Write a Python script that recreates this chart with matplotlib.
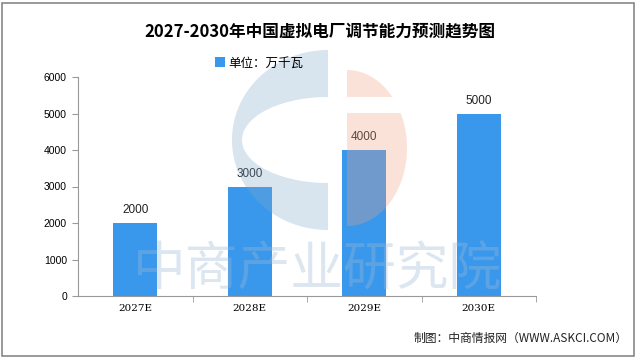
import numpy as np
import matplotlib.pyplot as plt
from matplotlib.patches import Rectangle, Polygon
from matplotlib.transforms import Affine2D

plt.rcParams['font.family'] = ['Liberation Sans', 'Noto Sans CJK SC', 'DejaVu Sans']

years = ['2027E', '2028E', '2029E', '2030E']
values = [2000, 3000, 4000, 5000]
title = '2027-2030年中国虚拟电厂调节能力预测趋势图'
unit = '单位：万千瓦'
source = '制图：中商情报网（WWW.ASKCI.COM）'

bar_color = '#3A98EC'
axis_color = '#999999'

W, H = 640, 358
fig = plt.figure(figsize=(W / 100, H / 100), dpi=100)
ax = fig.add_axes([78 / W, 62 / H, (536 - 78) / W, (296 - 77) / H])

x = range(len(years))
bars = ax.bar(x, values, width=0.38, color=bar_color, label=unit, zorder=2)
for xi, v in zip(x, values):
    ax.text(xi, v + 180, str(v), ha='center', va='bottom', fontsize=8.5, color='#222222')

ax.set_xlim(-0.5, 3.5)
ax.set_ylim(0, 6000)
ax.set_yticks(range(0, 6001, 1000))
ax.set_xticks(list(x))
ax.set_xticklabels(years, fontsize=7.5, family=['DejaVu Serif'])
ax.set_xticks([0.5, 1.5, 2.5, 3.5], minor=True)
ax.tick_params(axis='x', which='major', length=0, pad=6)
ax.tick_params(axis='x', which='minor', length=4, color=axis_color)
ax.tick_params(axis='y', labelsize=7.5, length=4, color=axis_color, pad=4)
for s in ['top', 'right']:
    ax.spines[s].set_visible(False)
for s in ['left', 'bottom']:
    ax.spines[s].set_color(axis_color)
ax.patch.set_alpha(0)

fig.text(0.5, 1 - 32 / H, title, ha='center', va='center', fontsize=12,
         fontweight='bold', family=['Noto Sans CJK SC'])
fig.legend(handles=[bars], labels=[unit], loc='center', bbox_to_anchor=(0.405, 1 - 63 / H),
           frameon=False, handlelength=0.8, handleheight=0.8, handletextpad=0.3,
           prop={'family': ['Noto Sans CJK SC'], 'size': 9})
fig.text(628 / W, 1 - 338 / H, source, ha='right', va='center', fontsize=8.5,
         family=['Noto Sans CJK SC'], color='#222222')

# watermark logo, drawn in pixel coords (y down from top)
px = Affine2D().scale(1 / 100, -1 / 100).translate(0, H / 100) + fig.dpi_scale_trans
t = np.linspace(np.pi / 2, 3 * np.pi / 2, 80)
outer = np.column_stack([328 + 96 * np.cos(t), 140 - 90 * np.sin(t)])
inner = np.column_stack([328 + 86 * np.cos(t), 140 - 43 * np.sin(t)])[::-1]
fig.patches.append(Polygon(np.vstack([outer, inner]), closed=True, transform=px,
                           facecolor='#7FA6C9', alpha=0.3, edgecolor='none', zorder=5))
t2 = np.linspace(-np.pi / 2, np.pi / 2, 80)
half = np.column_stack([347 + 60 * np.cos(t2), 148 - 78 * np.sin(t2)])
for y0, y1 in [(60, 97), (113, 240)]:
    peach = Polygon(np.vstack([[347, 148], half]), closed=True, transform=px,
                    facecolor='#F0A080', alpha=0.3, edgecolor='none', zorder=5)
    fig.patches.append(peach)
    clip = Rectangle((300, y0), 150, y1 - y0, transform=px)
    peach.set_clip_path(clip)
fig.text(318 / W, 1 - 270 / H, '中商产业研究院', ha='center', va='center', fontsize=38,
         family=['Noto Sans CJK SC'], color='#9DB8D5', alpha=0.35, zorder=7)

fig.patches.append(Rectangle((2 / W, 2 / H), 632 / W, 353 / H, transform=fig.transFigure,
                             fill=False, edgecolor='#888888', linewidth=1.2))

fig.savefig('out.png', dpi=100)
